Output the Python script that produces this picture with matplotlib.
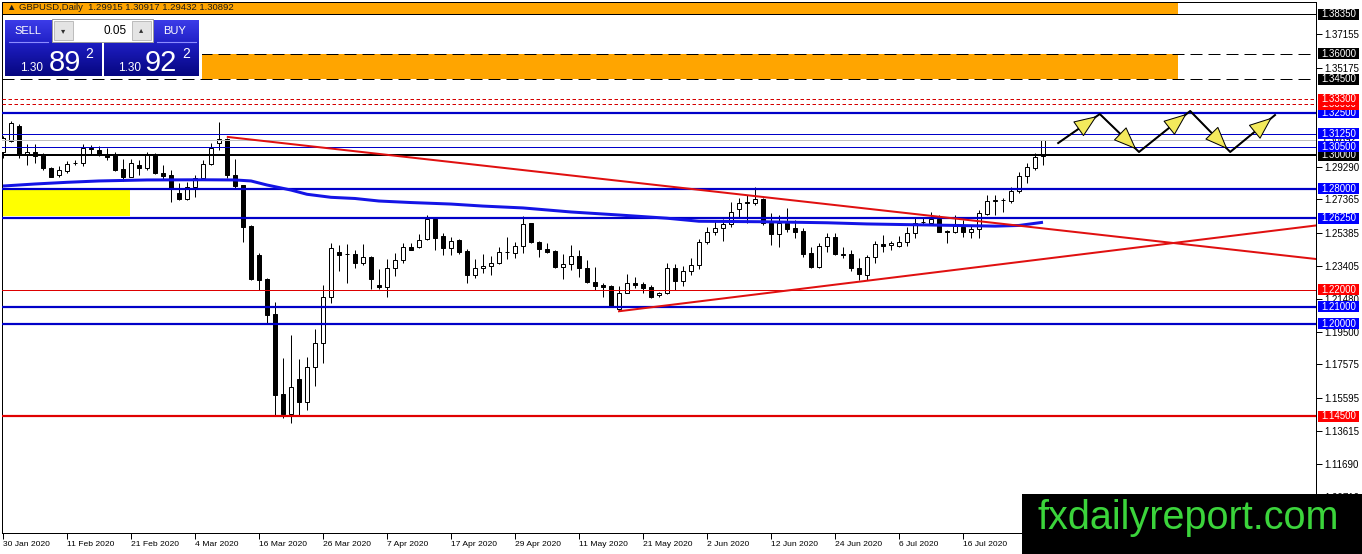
import numpy as np
import matplotlib
matplotlib.use("Agg")
import matplotlib.pyplot as plt
from matplotlib import font_manager as fm
from matplotlib.patches import Rectangle
from matplotlib.transforms import blended_transform_factory

# ---------------- data (GBPUSD daily, 30 Jan 2020 .. 30 Jul 2020) ----------------
opens = [1.3020, 1.3085, 1.3172, 1.3000, 1.3020, 1.2998, 1.2921, 1.2881, 1.2907, 1.2950,
         1.2951, 1.3040, 1.3030, 1.3004, 1.3004, 1.2917, 1.2871, 1.2941, 1.2921, 1.3000,
         1.2895, 1.2881, 1.2773, 1.2739, 1.2808, 1.2862, 1.2945, 1.3073, 1.3093, 1.2881,
         1.2822, 1.2579, 1.2407, 1.2264, 1.2055, 1.1580, 1.1462, 1.1669, 1.1536, 1.1744,
         1.1883, 1.2156, 1.2425, 1.2410, 1.2411, 1.2361, 1.2393, 1.2229, 1.2219, 1.2328,
         1.2377, 1.2452, 1.2456, 1.2500, 1.2620, 1.2519, 1.2446, 1.2496, 1.2432, 1.2288,
         1.2328, 1.2342, 1.2358, 1.2426, 1.2417, 1.2460, 1.2595, 1.2486, 1.2441, 1.2432,
         1.2337, 1.2352, 1.2401, 1.2328, 1.2248, 1.2229, 1.2223, 1.2085, 1.2183, 1.2242,
         1.2233, 1.2215, 1.2168, 1.2180, 1.2328, 1.2254, 1.2314, 1.2347, 1.2486, 1.2541,
         1.2565, 1.2589, 1.2678, 1.2719, 1.2717, 1.2739, 1.2598, 1.2530, 1.2598, 1.2569,
         1.2551, 1.2420, 1.2334, 1.2460, 1.2512, 1.2413, 1.2413, 1.2328, 1.2288, 1.2393,
         1.2472, 1.2466, 1.2460, 1.2486, 1.2535, 1.2600, 1.2598, 1.2618, 1.2548, 1.2545,
         1.2575, 1.2545, 1.2559, 1.2648, 1.2730, 1.2735, 1.2729, 1.2788, 1.2875, 1.2921,
         1.29915]
highs = [1.3113, 1.3203, 1.3184, 1.3065, 1.3065, 1.3012, 1.2929, 1.2937, 1.2964, 1.2970,
         1.3063, 1.3059, 1.3053, 1.3040, 1.3018, 1.2974, 1.2974, 1.2970, 1.3020, 1.3012,
         1.2941, 1.2911, 1.2832, 1.2842, 1.2881, 1.2970, 1.3069, 1.3198, 1.3099, 1.2974,
         1.2825, 1.2585, 1.2417, 1.2270, 1.2130, 1.1794, 1.1932, 1.1788, 1.1803, 1.1966,
         1.2229, 1.2480, 1.2466, 1.2470, 1.2436, 1.2470, 1.2401, 1.2322, 1.2381, 1.2417,
         1.2476, 1.2480, 1.2531, 1.2644, 1.2634, 1.2535, 1.2512, 1.2500, 1.2440, 1.2381,
         1.2413, 1.2401, 1.2456, 1.2515, 1.2486, 1.2638, 1.2598, 1.2490, 1.2480, 1.2436,
         1.2413, 1.2466, 1.2436, 1.2377, 1.2334, 1.2242, 1.2229, 1.2223, 1.2292, 1.2278,
         1.2248, 1.2229, 1.2189, 1.2358, 1.2353, 1.2342, 1.2387, 1.2500, 1.2575, 1.2610,
         1.2619, 1.2723, 1.2743, 1.2763, 1.2812, 1.2742, 1.2654, 1.2644, 1.2684, 1.2614,
         1.2565, 1.2456, 1.2476, 1.2539, 1.2539, 1.2456, 1.2436, 1.2387, 1.2407, 1.2492,
         1.2525, 1.2492, 1.2519, 1.2575, 1.2628, 1.2630, 1.2663, 1.2644, 1.2555, 1.2644,
         1.2614, 1.2585, 1.2674, 1.2763, 1.2763, 1.2745, 1.2808, 1.2901, 1.2954, 1.3010,
         1.30917]
lows = [1.2982, 1.3080, 1.2980, 1.2941, 1.2953, 1.2911, 1.2869, 1.2868, 1.2893, 1.2941,
        1.2937, 1.3000, 1.2994, 1.2970, 1.2905, 1.2848, 1.2869, 1.2881, 1.2911, 1.2887,
        1.2852, 1.2723, 1.2735, 1.2733, 1.2753, 1.2852, 1.2941, 1.3030, 1.2862, 1.2802,
        1.2486, 1.2258, 1.2199, 1.2005, 1.1458, 1.1438, 1.1408, 1.1458, 1.1487, 1.1630,
        1.1764, 1.2124, 1.2314, 1.2239, 1.2328, 1.2347, 1.2203, 1.2203, 1.2159, 1.2282,
        1.2358, 1.2434, 1.2448, 1.2494, 1.2436, 1.2407, 1.2407, 1.2413, 1.2242, 1.2269,
        1.2302, 1.2288, 1.2352, 1.2381, 1.2387, 1.2420, 1.2476, 1.2397, 1.2417, 1.2328,
        1.2263, 1.2318, 1.2278, 1.2239, 1.2199, 1.2159, 1.2100, 1.2075, 1.2180, 1.2209,
        1.2180, 1.2150, 1.2159, 1.2175, 1.2199, 1.2223, 1.2288, 1.2322, 1.2472, 1.2525,
        1.2492, 1.2575, 1.2630, 1.2598, 1.2703, 1.2585, 1.2466, 1.2456, 1.2545, 1.2506,
        1.2397, 1.2328, 1.2328, 1.2426, 1.2407, 1.2387, 1.2314, 1.2258, 1.2258, 1.2358,
        1.2426, 1.2436, 1.2456, 1.2460, 1.2506, 1.2585, 1.2585, 1.2543, 1.2476, 1.2540,
        1.2515, 1.2506, 1.2506, 1.2644, 1.2644, 1.2663, 1.2713, 1.2773, 1.2832, 1.2911,
        1.29432]
closes = [1.3099, 1.3192, 1.3000, 1.3020, 1.2994, 1.2921, 1.2871, 1.2911, 1.2945, 1.2952,
          1.3042, 1.3037, 1.3000, 1.2990, 1.2911, 1.2871, 1.2951, 1.2921, 1.3000, 1.2891,
          1.2875, 1.2802, 1.2739, 1.2808, 1.2862, 1.2945, 1.3040, 1.3093, 1.2881, 1.2816,
          1.2575, 1.2263, 1.2258, 1.2051, 1.1576, 1.1462, 1.1625, 1.1536, 1.1744, 1.1883,
          1.2156, 1.2446, 1.2409, 1.2412, 1.2361, 1.2393, 1.2263, 1.2219, 1.2328, 1.2377,
          1.2452, 1.2438, 1.2496, 1.2620, 1.2509, 1.2446, 1.2492, 1.2426, 1.2288, 1.2328,
          1.2342, 1.2361, 1.2426, 1.2423, 1.2460, 1.2591, 1.2486, 1.2441, 1.2426, 1.2337,
          1.2352, 1.2401, 1.2328, 1.2248, 1.2223, 1.2219, 1.2104, 1.2183, 1.2242, 1.2229,
          1.2209, 1.2156, 1.2180, 1.2328, 1.2254, 1.2314, 1.2347, 1.2486, 1.2545, 1.2565,
          1.2591, 1.2660, 1.2713, 1.2713, 1.2737, 1.2595, 1.2530, 1.2598, 1.2563, 1.2545,
          1.2413, 1.2334, 1.2460, 1.2512, 1.2413, 1.2407, 1.2328, 1.2294, 1.2393, 1.2472,
          1.2460, 1.2480, 1.2486, 1.2539, 1.2598, 1.2604, 1.2618, 1.2545, 1.2545, 1.2579,
          1.2545, 1.2559, 1.2654, 1.2727, 1.2733, 1.2731, 1.2788, 1.2875, 1.2931, 1.2986,
          1.30892]

# blue moving-average line (bar index, value)
ma_bars = [0, 4, 8, 12, 18, 25, 29, 31, 33, 36, 38, 41, 44, 47, 51, 56, 60, 65, 71, 77,
           83, 87, 95, 103, 108, 118, 124, 127, 130]
ma_values = [1.2816, 1.2828, 1.2838, 1.2846, 1.2852, 1.2853, 1.2852, 1.2846, 1.2822, 1.2792,
             1.2767, 1.2749, 1.2742, 1.2727, 1.2718, 1.2709, 1.2697, 1.2686, 1.2662, 1.2644,
             1.2625, 1.2607, 1.2604, 1.2598, 1.2591, 1.2583, 1.2578, 1.2582, 1.2601]

# x-axis labels
xtick_bars = [0, 8, 16, 24, 32, 40, 48, 56, 64, 72, 80, 88, 96, 104, 112, 120]
xtick_labels = ["30 Jan 2020", "11 Feb 2020", "21 Feb 2020", "4 Mar 2020", "16 Mar 2020",
                "26 Mar 2020", "7 Apr 2020", "17 Apr 2020", "29 Apr 2020", "11 May 2020",
                "21 May 2020", "2 Jun 2020", "12 Jun 2020", "24 Jun 2020", "6 Jul 2020",
                "16 Jul 2020"]

# price-scale labels
ytick_values = [1.37155, 1.35175, 1.29290, 1.27365, 1.25385, 1.23405,
                1.21480, 1.19500, 1.17575, 1.15595, 1.13615, 1.11690, 1.09710]
current_price = 1.30892

# horizontal levels
level_prices = [1.3835, 1.3600, 1.3450, 1.3330, 1.3300, 1.3250, 1.3125, 1.3050, 1.3000,
                1.2800, 1.2625, 1.2200, 1.2100, 1.2000, 1.1450]
level_kinds = ["black", "dash", "dash", "rdot", "rdot", "blue2", "blue1", "blue1", "black2",
               "blue2", "blue2", "red1", "blue2", "blue2", "red2"]
box_prices = [1.1450, 1.2000, 1.2100, 1.2200, 1.2625, 1.2800, 1.3000, 1.3050, 1.3125,
              1.3250, 1.3300, 1.3330, 1.3450, 1.3600, 1.3835]
box_colors = ["red", "blue", "blue", "red", "blue", "blue", "black", "blue", "blue",
              "blue", "red", "red", "black", "black", "black"]

# zones
orange_zones = [(1.3835, 1.4100), (1.3450, 1.3600)]
orange_end_bar = 146.9
yellow_zone = (1.2638, 1.2792)
yellow_end_bar = 15.9

# trend lines (bar, price) pairs
trend_down = [(28.1, 1.3107), (164.125, 1.2383)]
trend_up = [(77.0, 1.2073), (164.125, 1.2582)]

# projected zig-zag path
zig_bars = [131.9, 137.1, 142.0, 148.4, 153.4, 159.0]
zig_prices = [1.3071, 1.3243, 1.3018, 1.3261, 1.3018, 1.3237]

# ---------------- layout ----------------
W, H = 1362, 554
L, R, T, B = 2, 1316, 2, 533
YMIN, YMAX = 1.07575, 1.39077
XMIN, XMAX = -0.125, 164.125
PX = 0.72

names = {f.name for f in fm.fontManager.ttflist}
NARROW = "Liberation Sans Narrow" if "Liberation Sans Narrow" in names else None
plt.rcParams["font.family"] = ["Liberation Sans", "DejaVu Sans"]

fig = plt.figure(figsize=(W / 100, H / 100), dpi=100)
fig.patch.set_facecolor("white")
ax = fig.add_axes([L / W, (H - B) / H, (R - L) / W, (B - T) / H])
ax.set_xlim(XMIN, XMAX)
ax.set_ylim(YMIN, YMAX)
ax.set_facecolor("white")

# zones
for lo, hi in orange_zones:
    ax.add_patch(Rectangle((XMIN, lo), orange_end_bar - XMIN, hi - lo, fc="#ffa500",
                           ec="none", zorder=0.5))
ax.add_patch(Rectangle((XMIN, yellow_zone[0]), yellow_end_bar - XMIN,
                       yellow_zone[1] - yellow_zone[0], fc="#ffff00", ec="none", zorder=0.5))

# candles
o = np.array(opens); c = np.array(closes); h = np.array(highs); l = np.array(lows)
bars = np.arange(len(o))
up = c >= o
ax.vlines(bars, l, h, color="black", lw=PX, zorder=2)
blo = np.minimum(o, c); bh = np.abs(c - o)
ax.bar(bars[up], bh[up], bottom=blo[up], width=0.62, color="white", edgecolor="black",
       linewidth=PX, zorder=3)
ax.bar(bars[~up], bh[~up], bottom=blo[~up], width=0.62, color="black", edgecolor="black",
       linewidth=PX, zorder=3)

# levels
styles = {
    "black": dict(color="black", lw=1 * PX, ls="-"),
    "black2": dict(color="black", lw=2 * PX, ls="-"),
    "dash": dict(color="black", lw=1 * PX, ls=(0, (12, 6))),
    "rdot": dict(color="#d40000", lw=1 * PX, ls=(0, (3.5, 2.5))),
    "blue2": dict(color="#0000c8", lw=2.2 * PX, ls="-"),
    "blue1": dict(color="#0000c8", lw=1 * PX, ls="-"),
    "red1": dict(color="#dd0000", lw=1 * PX, ls="-"),
    "red2": dict(color="#e00000", lw=2.2 * PX, ls="-"),
}
ax.axhline(current_price, color="#c0c0c0", lw=PX, zorder=4)
for p, k in zip(level_prices, level_kinds):
    ax.axhline(p, zorder=4, **styles[k])

# moving average
ax.plot(ma_bars, ma_values, color="#1414e6", lw=3 * PX, zorder=5, solid_capstyle="butt")

# trend lines
for line in (trend_down, trend_up):
    ax.plot([line[0][0], line[1][0]], [line[0][1], line[1][1]], color="#e01010",
            lw=2 * PX, zorder=5)

# zig-zag projection
ax.plot(zig_bars, zig_prices, color="black", lw=2 * PX, zorder=6)
for i in range(len(zig_bars) - 1):
    x0, y0 = zig_bars[i], zig_prices[i]
    x1, y1 = zig_bars[i + 1], zig_prices[i + 1]
    tip = (x0 + 0.93 * (x1 - x0), y0 + 0.93 * (y1 - y0))
    ax.annotate("", xy=tip, xytext=(x0, y0),
                arrowprops=dict(arrowstyle="-|>,head_length=0.75,head_width=0.3",
                                fc="#f3ea5c", ec="black", lw=1 * PX,
                                mutation_scale=20, shrinkA=0, shrinkB=0),
                zorder=7)

# spines / ticks
for s in ax.spines.values():
    s.set_linewidth(PX)
    s.set_color("black")
ax.yaxis.tick_right()
ax.set_yticks(ytick_values, [f"{v:.5f}" for v in ytick_values])
ax.tick_params(axis="y", length=4, width=PX, pad=2, labelsize=7, colors="black")
ax.set_xticks(xtick_bars, xtick_labels)
xs = 6.6 if NARROW else 6.1
ax.tick_params(axis="x", length=4, width=PX, pad=2, labelsize=xs, colors="black")
for t in ax.get_xticklabels():
    t.set_ha("left")
    if NARROW:
        t.set_fontfamily(NARROW)

# price boxes on the right scale
blend = blended_transform_factory(ax.transAxes, ax.transData)
ppx = (YMAX - YMIN) / (B - T)
bx0 = (1318 - L) / (R - L)
bw = 41 / (R - L)
tx = (1321 - L) / (R - L)
ax.text(tx, current_price, f"{current_price:.5f}", transform=blend, ha="left",
        va="center", fontsize=7, color="black", clip_on=False, zorder=9)
box_fc = {"red": "#ff0000", "blue": "#0000ff", "black": "#000000"}
for i, (p, col) in enumerate(zip(box_prices, box_colors)):
    ax.add_patch(Rectangle((bx0, p - 5.5 * ppx), bw, 11 * ppx, transform=blend,
                           fc=box_fc[col], ec="none", clip_on=False, zorder=10 + 2 * i))
    ax.text(tx, p, f"{p:.5f}", transform=blend, ha="left", va="center", fontsize=7,
            color="white", clip_on=False, zorder=11 + 2 * i)

# ---------------- overlay in pixel coordinates ----------------
ov = fig.add_axes([0, 0, 1, 1], zorder=20)
ov.set_xlim(0, W)
ov.set_ylim(H, 0)
ov.axis("off")
ov.patch.set_alpha(0)

ov.text(7, 8, "\u25b2 GBPUSD,Daily  1.29915 1.30917 1.29432 1.30892", fontsize=6.8,
        color="#1a1a1a", va="center", ha="left")

# trade panel
ov.add_patch(Rectangle((3, 17), 199, 62, fc="white", ec="none", zorder=1))


def grad(x0, x1, y0, y1, ctop, cbot):
    n = 64
    arr = np.linspace(np.array(ctop) / 255, np.array(cbot) / 255, n)[:, None, :]
    ov.imshow(arr, extent=(x0, x1, y1, y0), aspect="auto", interpolation="bilinear",
              zorder=2)


for x0, x1 in ((5, 102), (104, 199)):
    grad(x0, x1, 20, 42, (60, 60, 232), (34, 34, 200))
    grad(x0, x1, 42, 76, (30, 30, 196), (6, 6, 128))
ov.set_xlim(0, W)
ov.set_ylim(H, 0)
ov.plot([9, 48], [42, 42], color="#8c8cff", lw=0.8, zorder=3)
ov.plot([157, 196], [42, 42], color="#8c8cff", lw=0.8, zorder=3)

ov.add_patch(Rectangle((52, 19), 101, 23, fc="white", ec="#9a9a9a", lw=0.7, zorder=3))
ov.add_patch(Rectangle((54, 21), 19, 19, fc="#e4e4e4", ec="#b4b4b4", lw=0.6, zorder=4))
ov.add_patch(Rectangle((132, 21), 19, 19, fc="#e4e4e4", ec="#b4b4b4", lw=0.6, zorder=4))
ov.text(63.5, 30.5, "\u25be", fontsize=6, ha="center", va="center", color="#303030",
        family="DejaVu Sans", zorder=5)
ov.text(141.5, 30, "\u25b4", fontsize=6, ha="center", va="center", color="#303030",
        family="DejaVu Sans", zorder=5)
pf = NARROW if NARROW else "Liberation Sans"
ov.text(127, 30.5, "0.05", fontsize=8.5, ha="right", va="center", color="black", zorder=5)
sb = 9.5 if NARROW else 8
ov.text(27.5, 31, "SELL", fontsize=sb, ha="center", va="center", color="white",
        family=pf, zorder=5)
ov.text(175, 31, "BUY", fontsize=sb, ha="center", va="center", color="white",
        family=pf, zorder=5)
big = 24 if NARROW else 21
small = 10.5 if NARROW else 8.5
for x_small, x_big, x_sup, digits in ((20, 49, 85, "89"), (118, 145, 182, "92")):
    ov.text(x_small, 71, "1.30", fontsize=small, ha="left", va="baseline", color="white",
            family=pf, zorder=5)
    ov.text(x_big, 71, digits, fontsize=big, ha="left", va="baseline", color="white",
            family=pf, zorder=5)
    ov.text(x_sup, 58, "2", fontsize=10, ha="left", va="baseline", color="white",
            family=pf, zorder=5)

# watermark
ov.add_patch(Rectangle((1022, 494), 340, 60, fc="black", ec="none", zorder=6))
ov.text(1037, 529, "fxdailyreport.com", fontsize=28.5, color="#3bd43b", ha="left",
        va="baseline", family="Liberation Sans", zorder=7)

fig.savefig("out.png", dpi=100, facecolor="white")
